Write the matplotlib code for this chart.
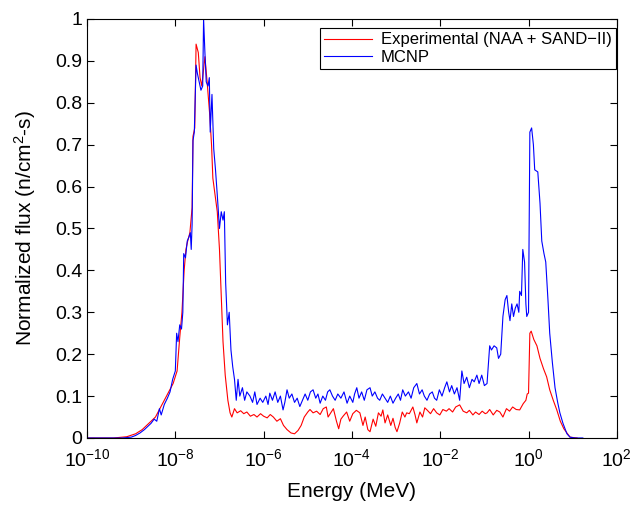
import numpy as np
import matplotlib
matplotlib.use('Agg')
import matplotlib.pyplot as plt
from matplotlib.ticker import LogFormatterMathtext

# log10 of energy (MeV) and normalized flux
exp_log_e = [
    -10.00, -9.40, -9.10, -8.90, -8.75, -8.60, -8.45, -8.35, -8.25, -8.15,
    -8.05, -7.96, -7.90, -7.85, -7.80, -7.76, -7.72, -7.67, -7.62, -7.60,
    -7.56, -7.53, -7.48, -7.44, -7.40, -7.36, -7.33, -7.28, -7.22, -7.18,
    -7.15, -7.10, -7.05, -7.00, -6.97, -6.92, -6.87, -6.81, -6.76, -6.72,
    -6.66, -6.60, -6.52, -6.45, -6.38, -6.30, -6.22, -6.15, -6.07, -6.00,
    -5.92, -5.85, -5.78, -5.70, -5.62, -5.55, -5.47, -5.38, -5.30, -5.22,
    -5.15, -5.08, -5.00, -4.95, -4.88, -4.80, -4.72, -4.65, -4.58, -4.54,
    -4.48, -4.42, -4.35, -4.30, -4.25, -4.20, -4.12, -4.05, -3.98, -3.90,
    -3.82, -3.75, -3.70, -3.64, -3.59, -3.52, -3.46, -3.40, -3.34, -3.30,
    -3.25, -3.19, -3.12, -3.07, -3.02, -2.98, -2.92, -2.86, -2.80, -2.76,
    -2.70, -2.62, -2.57, -2.53, -2.46, -2.40, -2.35, -2.30, -2.22, -2.15,
    -2.08, -2.01, -1.94, -1.86, -1.80, -1.72, -1.65, -1.56, -1.48, -1.40,
    -1.34, -1.26, -1.20, -1.12, -1.05, -0.98, -0.94, -0.88, -0.80, -0.72,
    -0.65, -0.58, -0.50, -0.43, -0.36, -0.28, -0.20, -0.12, -0.06, -0.03,
    0.00, 0.03, 0.06, 0.12, 0.19, 0.26, 0.34, 0.41, 0.48, 0.56,
    0.64, 0.72, 0.80, 0.87, 0.94, 1.10,
]
exp_flux = [
    0.000, 0.000, 0.003, 0.010, 0.020, 0.035, 0.050, 0.070, 0.090, 0.110,
    0.130, 0.160, 0.240, 0.300, 0.400, 0.450, 0.470, 0.490, 0.550, 0.720,
    0.740, 0.940, 0.920, 0.860, 0.840, 0.880, 0.910, 0.850, 0.770, 0.700,
    0.620, 0.580, 0.540, 0.450, 0.370, 0.230, 0.150, 0.090, 0.060, 0.050,
    0.070, 0.060, 0.065, 0.058, 0.062, 0.052, 0.056, 0.050, 0.058, 0.052,
    0.048, 0.056, 0.050, 0.040, 0.046, 0.030, 0.020, 0.012, 0.010, 0.018,
    0.030, 0.050, 0.062, 0.068, 0.060, 0.064, 0.056, 0.070, 0.074, 0.050,
    0.060, 0.070, 0.040, 0.022, 0.045, 0.052, 0.062, 0.040, 0.058, 0.066,
    0.060, 0.030, 0.050, 0.020, 0.015, 0.045, 0.028, 0.060, 0.052, 0.067,
    0.036, 0.055, 0.030, 0.047, 0.025, 0.015, 0.035, 0.062, 0.050, 0.060,
    0.058, 0.074, 0.055, 0.036, 0.062, 0.050, 0.072, 0.067, 0.058, 0.070,
    0.060, 0.055, 0.068, 0.064, 0.070, 0.062, 0.074, 0.079, 0.064, 0.060,
    0.066, 0.055, 0.062, 0.056, 0.064, 0.058, 0.060, 0.068, 0.055, 0.066,
    0.062, 0.050, 0.070, 0.064, 0.074, 0.068, 0.067, 0.082, 0.090, 0.105,
    0.107, 0.250, 0.255, 0.235, 0.220, 0.190, 0.165, 0.146, 0.115, 0.090,
    0.067, 0.040, 0.022, 0.012, 0.002, 0.000,
]

mcnp_log_e = [
    -10.00, -9.20, -9.00, -8.90, -8.80, -8.70, -8.62, -8.55, -8.48, -8.42,
    -8.36, -8.32, -8.25, -8.18, -8.12, -8.06, -8.00, -7.97, -7.94, -7.90,
    -7.86, -7.83, -7.81, -7.77, -7.73, -7.69, -7.66, -7.64, -7.62, -7.60,
    -7.57, -7.53, -7.50, -7.46, -7.42, -7.38, -7.36, -7.33, -7.30, -7.26,
    -7.23, -7.21, -7.17, -7.13, -7.09, -7.05, -7.00, -6.96, -6.92, -6.89,
    -6.86, -6.82, -6.78, -6.74, -6.70, -6.66, -6.62, -6.58, -6.54, -6.48,
    -6.43, -6.38, -6.31, -6.25, -6.20, -6.15, -6.08, -6.02, -5.95, -5.90,
    -5.86, -5.80, -5.74, -5.68, -5.62, -5.56, -5.52, -5.47, -5.42, -5.36,
    -5.30, -5.24, -5.18, -5.12, -5.06, -5.00, -4.94, -4.88, -4.82, -4.77,
    -4.72, -4.66, -4.60, -4.55, -4.50, -4.44, -4.38, -4.32, -4.25, -4.18,
    -4.11, -4.05, -3.98, -3.94, -3.89, -3.84, -3.78, -3.72, -3.66, -3.59,
    -3.54, -3.48, -3.42, -3.37, -3.31, -3.25, -3.19, -3.13, -3.07, -3.01,
    -2.95, -2.90, -2.85, -2.79, -2.72, -2.66, -2.60, -2.53, -2.47, -2.41,
    -2.36, -2.30, -2.24, -2.18, -2.13, -2.08, -2.02, -1.96, -1.90, -1.85,
    -1.79, -1.74, -1.68, -1.62, -1.56, -1.51, -1.46, -1.40, -1.34, -1.28,
    -1.23, -1.17, -1.12, -1.06, -1.00, -0.94, -0.88, -0.84, -0.78, -0.72,
    -0.68, -0.63, -0.58, -0.53, -0.49, -0.45, -0.42, -0.38, -0.34, -0.30,
    -0.26, -0.22, -0.20, -0.16, -0.13, -0.09, -0.06, -0.04, 0.00, 0.03,
    0.07, 0.11, 0.14, 0.21, 0.26, 0.30, 0.35, 0.39, 0.44, 0.48,
    0.54, 0.60, 0.66, 0.71, 0.78, 0.87, 0.94, 1.05, 1.23,
]
mcnp_flux = [
    0.000, 0.000, 0.002, 0.006, 0.012, 0.020, 0.028, 0.035, 0.045, 0.040,
    0.070, 0.055, 0.080, 0.095, 0.110, 0.140, 0.160, 0.250, 0.230, 0.270,
    0.260, 0.300, 0.440, 0.430, 0.470, 0.480, 0.490, 0.450, 0.510, 0.710,
    0.730, 0.890, 0.870, 0.850, 0.830, 0.840, 1.000, 0.920, 0.850, 0.840,
    0.860, 0.730, 0.820, 0.690, 0.640, 0.580, 0.500, 0.540, 0.520, 0.540,
    0.370, 0.270, 0.300, 0.210, 0.170, 0.140, 0.090, 0.140, 0.100, 0.120,
    0.090, 0.110, 0.100, 0.085, 0.110, 0.080, 0.095, 0.085, 0.100, 0.080,
    0.107, 0.090, 0.110, 0.085, 0.100, 0.067, 0.085, 0.115, 0.095, 0.105,
    0.085, 0.095, 0.075, 0.090, 0.105, 0.090, 0.110, 0.115, 0.095, 0.105,
    0.083, 0.100, 0.090, 0.110, 0.115, 0.100, 0.090, 0.105, 0.095, 0.110,
    0.083, 0.100, 0.085, 0.105, 0.120, 0.095, 0.110, 0.090, 0.115, 0.120,
    0.100, 0.110, 0.095, 0.090, 0.105, 0.095, 0.085, 0.100, 0.083, 0.095,
    0.105, 0.090, 0.115, 0.100, 0.110, 0.095, 0.120, 0.130, 0.105, 0.115,
    0.100, 0.090, 0.105, 0.110, 0.095, 0.090, 0.115, 0.100, 0.120, 0.134,
    0.110, 0.125, 0.105, 0.120, 0.090, 0.160, 0.130, 0.145, 0.120, 0.140,
    0.134, 0.150, 0.130, 0.150, 0.125, 0.130, 0.220, 0.210, 0.220, 0.215,
    0.190, 0.200, 0.290, 0.330, 0.340, 0.300, 0.280, 0.320, 0.290, 0.310,
    0.320, 0.300, 0.350, 0.340, 0.450, 0.420, 0.320, 0.290, 0.300, 0.730,
    0.740, 0.700, 0.640, 0.635, 0.560, 0.470, 0.440, 0.420, 0.330, 0.250,
    0.180, 0.120, 0.085, 0.060, 0.035, 0.010, 0.002, 0.000, 0.000,
]

x_ticks = [1e-10, 1e-8, 1e-6, 1e-4, 1e-2, 1e0, 1e2]
y_ticks = [0, 0.1, 0.2, 0.3, 0.4, 0.5, 0.6, 0.7, 0.8, 0.9, 1]
y_tick_labels = ['0', '0.1', '0.2', '0.3', '0.4', '0.5', '0.6', '0.7', '0.8', '0.9', '1']


def main():
    plt.rcParams['font.family'] = ['Liberation Sans', 'DejaVu Sans']
    plt.rcParams['mathtext.fontset'] = 'custom'
    plt.rcParams['mathtext.rm'] = 'Liberation Sans'
    plt.rcParams['mathtext.it'] = 'Liberation Sans:italic'

    fig = plt.figure(figsize=(6.32, 5.05), dpi=100)
    ax = fig.add_axes([0.1377, 0.1327, 0.8383, 0.8297])

    ax.plot(10.0 ** np.array(exp_log_e), exp_flux, color='#ff0000', lw=0.8,
            label='Experimental (NAA + SAND\u2212II)')
    ax.plot(10.0 ** np.array(mcnp_log_e), mcnp_flux, color='#0000ff', lw=0.8,
            label='MCNP')

    ax.set_xscale('log')
    ax.set_xlim(1e-10, 1e2)
    ax.set_ylim(0, 1)
    ax.set_xticks(x_ticks)
    ax.xaxis.set_major_formatter(LogFormatterMathtext())
    ax.xaxis.set_minor_locator(plt.NullLocator())
    ax.set_yticks(y_ticks)
    ax.set_yticklabels(y_tick_labels)
    ax.tick_params(direction='in', top=True, right=True, labelsize=14,
                   length=5, width=0.8)
    ax.tick_params(axis='x', pad=7)

    ax.set_xlabel('Energy (MeV)', fontsize=15, labelpad=9)
    ax.set_ylabel('Normalized flux (n/cm$^{2}$-s)', fontsize=15, labelpad=12)

    leg = ax.legend(loc='upper right', bbox_to_anchor=(0.998, 0.978),
                    fontsize=12, fancybox=False, edgecolor='black',
                    framealpha=1, borderaxespad=0, handlelength=2.9,
                    labelspacing=0.15, borderpad=0.25, handletextpad=0.5)
    leg.get_frame().set_linewidth(0.8)

    fig.savefig('out.png', dpi=100)


if __name__ == '__main__':
    main()
